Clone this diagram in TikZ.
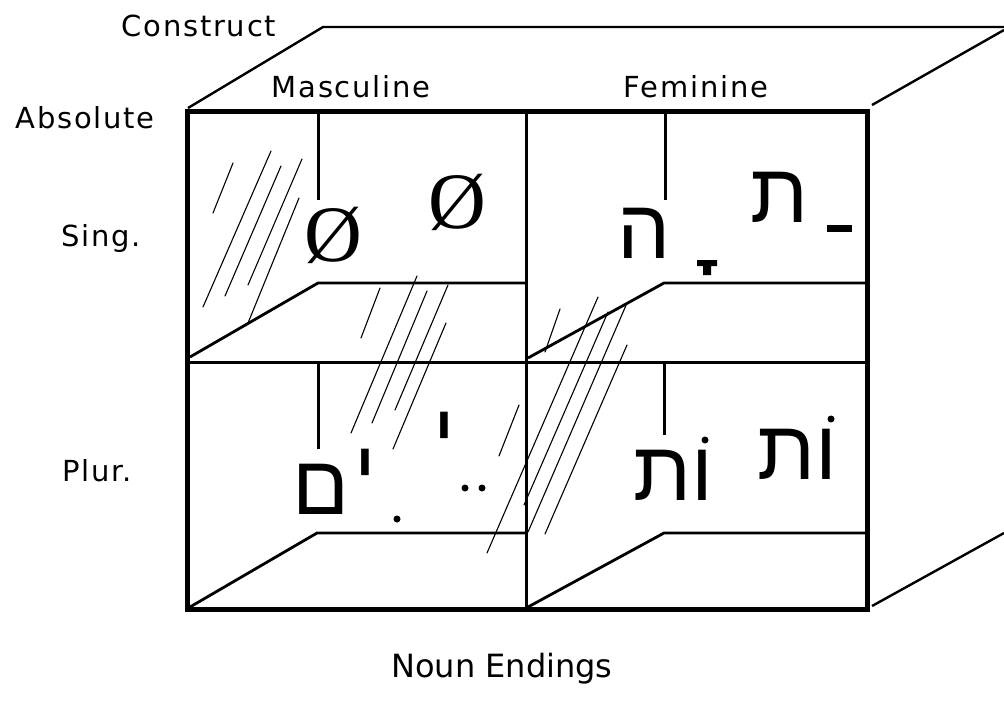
\documentclass[tikz,border=0pt]{standalone}
\usepackage{fontspec}
\setmainfont{DejaVu Sans}
\newfontfamily\lblfont[LetterSpace=6]{DejaVu Sans}
\newfontfamily\ttlfont{DejaVu Sans}
\newfontfamily\hebfont[Script=Hebrew]{Liberation Sans}
\newfontfamily\symfont{Liberation Serif}
\TeXXeTstate=1
\begin{document}
\begin{tikzpicture}[x=1pt,y=-1pt,
  lbl/.style={inner sep=0pt,anchor=base,font=\lblfont\fontsize{29}{30}\selectfont},
  ttl/.style={inner sep=0pt,anchor=base,font=\ttlfont\fontsize{32}{34}\selectfont},
  heb/.style={inner sep=0pt,font=\hebfont\fontsize{84}{86}\selectfont},
  zero/.style={inner sep=0pt,font=\symfont\fontsize{80}{82}\selectfont},
  outer/.style={line width=5pt,line cap=rect,line join=miter},
  mid/.style={line width=3pt},
  edge/.style={line width=2.4pt,line join=round},
  floor/.style={line width=2.8pt,line join=round},
  glass/.style={line width=1.1pt,line cap=round},
  vowel/.style={fill=black,draw=none}
]
\useasboundingbox (0,0) rectangle (1004,702);
% corners
\coordinate (FTL) at (187,111);
\coordinate (FTR) at (867,111);
\coordinate (FBL) at (187,609);
\coordinate (FBR) at (867,609);
\coordinate (ML) at (187,362);
\coordinate (MR) at (867,362);
\coordinate (MT) at (526,111);
\coordinate (MB) at (526,609);
\coordinate (BTL) at (323,27);
\coordinate (BTR) at (1004,27);
\coordinate (RT) at (872,105);
\coordinate (RTB) at (1004,30);
\coordinate (RB) at (872,606);
\coordinate (RBB) at (1004,533);

% glass reflections
\draw[glass] (233,163) -- (213,213);
\draw[glass] (271,151) -- (203,307);
\draw[glass] (281,166) -- (225,296);
\draw[glass] (302,159) -- (248,285);
\draw[glass] (299,198) -- (248,323);
\draw[glass] (380,288) -- (361,338);
\draw[glass] (417,276) -- (351,433);
\draw[glass] (427,291) -- (372,423);
\draw[glass] (448,285) -- (395,410);
\draw[glass] (446,323) -- (393,449);
\draw[glass] (519,405) -- (499,456);
\draw[glass] (560,309) -- (545,352);
\draw[glass] (598,297) -- (487,553);
\draw[glass] (608,312) -- (524,505);
\draw[glass] (627,303) -- (528,532);
\draw[glass] (627,345) -- (545,534);

% top face and right face
\draw[edge] (188,108) -- (BTL) -- (BTR);
\draw[edge] (RT) -- (RTB);
\draw[edge] (RB) -- (RBB);

% cells: back edges and floors
\draw[mid] (318,111) -- (318,200);
\draw[floor] (190,357) -- (318,283) -- (526,283);
\draw[mid] (665,111) -- (665,200);
\draw[floor] (528,358) -- (664,283) -- (866,283);
\draw[mid] (318,362) -- (318,449);
\draw[floor] (190,607) -- (317,533) -- (526,533);
\draw[mid] (664,362) -- (664,435);
\draw[floor] (528,607) -- (664,533) -- (866,533);

% front frame
\draw[mid] (ML) -- (MR);
\draw[mid] (MT) -- (MB);
\draw[outer] (FTL) rectangle (FBR);

% labels
\node[lbl] (construct) at (199,36) {Construct};
\node[lbl] (masc) at (351,97) {Masculine};
\node[lbl] (fem) at (696,97) {Feminine};
\node[lbl] (absl) at (85,128) {Absolute};
\node[lbl] (sing) at (101,246) {Sing.};
\node[lbl] (plur) at (97,481) {Plur.};
\node[ttl] (title) at (502,677) {Noun Endings};

% masculine singular
\node[zero] (z1) at (333,235) {Ø};
\node[zero] (z2) at (457,202) {Ø};

% feminine singular
\node[heb] (he) at (644,233) {ה};
\fill[vowel] (697,260) rectangle (717,266) (703,266) rectangle (711,275);
\node[heb] (tav1) at (780,197) {ת};
\fill[vowel] (827,225) rectangle (852,232);

% masculine plural
\node[heb] (mem) at (321,489) {ם};
\node[heb] (yod1) at (365,474) {י};
\fill[vowel] (397,519) circle (3.5);
\node[heb] (yod2) at (444,437) {י};
\fill[vowel] (465,488) circle (3.5) (482,488) circle (3.5);

% feminine plural
\node[heb] (ot1) at (673,475) {\beginR ות\endR};
\fill[vowel] (705,440) circle (3.5);
\node[heb] (ot2) at (797,454) {\beginR ות\endR};
\fill[vowel] (831,419) circle (3.5);
\end{tikzpicture}
\end{document}
